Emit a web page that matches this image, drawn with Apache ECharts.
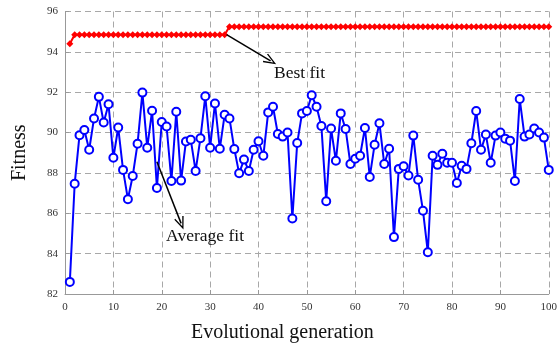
<!DOCTYPE html>
<html><head><meta charset="utf-8">
<script src="https://cdn.jsdelivr.net/npm/echarts@6/dist/echarts.min.js"></script>
<style>html,body{margin:0;padding:0;background:#fff}#c{width:560px;height:348px}</style>
</head><body><div id="c"></div>
<script>
var generations = [];
for (var g = 1; g <= 100; g++) generations.push(g);

var bestFit = [94.4].concat(
  Array(32).fill(94.85),
  Array(67).fill(95.25)
);

var averageFit = [
  82.6, 87.46, 89.87, 90.13, 89.15, 90.7, 91.77, 90.5, 91.4, 88.75,
  90.25, 88.15, 86.7, 87.85, 89.45, 91.98, 89.25, 91.08, 87.25, 90.52,
  90.3, 87.6, 91.03, 87.62, 89.56, 89.64, 88.1, 89.72, 91.8, 89.25,
  91.44, 89.2, 90.88, 90.7, 89.18, 87.98, 88.66, 88.1, 89.15, 89.57,
  88.85, 91.0, 91.28, 89.93, 89.8, 90.0, 85.74, 89.48, 90.95, 91.07,
  91.85, 91.28, 90.33, 86.6, 90.2, 88.6, 90.95, 90.18, 88.44, 88.7,
  88.85, 90.23, 87.8, 89.4, 90.46, 88.44, 89.2, 84.82, 88.2, 88.33,
  87.87, 89.85, 87.66, 86.13, 84.07, 88.85, 88.4, 88.95, 88.5, 88.5,
  87.5, 88.35, 88.2, 89.47, 91.07, 89.15, 89.9, 88.5, 89.85, 90.0,
  89.7, 89.6, 87.6, 91.66, 89.8, 89.9, 90.2, 90.0, 89.75, 88.15
];

var xTicks = [0, 10, 20, 30, 40, 50, 60, 70, 80, 90, 100];
var yTicks = [82, 84, 86, 88, 90, 92, 94, 96];

var bestFitLabel = 'Best fit';
var averageFitLabel = 'Average fit';
var bestArrow = [[33.4, 94.85], [42.5, 93.55]];
var avgArrow = [[19.0, 88.55], [24.0, 85.5]];
var bestLabelPos = [43.1, 92.92];
var avgLabelPos = [20.8, 84.85];

var serif = '"Liberation Serif", "DejaVu Serif", serif';
var chevron = 'path://M5,0 L10,11 L8.8,11.6 L5,3 L1.2,11.6 L0,11 Z';

var chart = echarts.init(document.getElementById('c'));
var gridLine = {show: true, lineStyle: {color: '#a8a8a8', type: [6, 4], width: 1}};
chart.setOption({
  animation: false,
  backgroundColor: '#fff',
  grid: {left: 65, right: 7, top: 11.5, bottom: 52, show: false},
  xAxis: {
    type: 'value', min: 0, max: 100, interval: 10,
    name: 'Evolutional generation', nameLocation: 'middle', nameGap: 29,
    nameTextStyle: {fontFamily: serif, fontSize: 20, color: '#111', padding: [0, 49, 0, 0]},
    axisLine: {show: true, onZero: false, lineStyle: {color: '#999', width: 1}},
    axisTick: {show: true, inside: true, length: 4, lineStyle: {color: '#999'}},
    axisLabel: {fontFamily: serif, fontSize: 11, color: '#333', margin: 8,
      formatter: function (v) { return xTicks.indexOf(v) >= 0 ? String(v) : ''; }},
    splitLine: gridLine
  },
  yAxis: {
    type: 'value', min: 82, max: 96, interval: 2,
    name: 'Fitness', nameLocation: 'middle', nameGap: 35,
    nameTextStyle: {fontFamily: serif, fontSize: 20, color: '#111'},
    axisLine: {show: true, lineStyle: {color: '#999', width: 1}},
    axisTick: {show: true, inside: true, length: 4, lineStyle: {color: '#999'}},
    axisLabel: {fontFamily: serif, fontSize: 11, color: '#333', margin: 7,
      formatter: function (v) { return yTicks.indexOf(v) >= 0 ? String(v) : ''; }},
    splitLine: gridLine
  },
  series: [
    {
      type: 'line', name: bestFitLabel,
      data: generations.map(function (g, i) { return [g, bestFit[i]]; }),
      symbol: 'diamond', symbolSize: [7, 7], showSymbol: true,
      lineStyle: {color: '#ff0000', width: 2},
      itemStyle: {color: '#ff0000', borderWidth: 0},
      z: 3,
      markLine: {
        silent: true, symbol: ['none', chevron], symbolSize: [10, 13],
        lineStyle: {color: '#000', width: 1.5, type: 'solid'},
        label: {show: false},
        data: [[{coord: bestArrow[0]}, {coord: bestArrow[1]}]]
      },
      markPoint: {
        silent: true, symbol: 'rect', symbolSize: 1,
        itemStyle: {color: 'rgba(0,0,0,0)'},
        label: {show: true, position: 'right', distance: 0,
          fontFamily: serif, fontSize: 17.5, color: '#111',
          formatter: function () { return bestFitLabel; }},
        data: [{coord: bestLabelPos}]
      }
    },
    {
      type: 'line', name: averageFitLabel,
      data: generations.map(function (g, i) { return [g, averageFit[i]]; }),
      symbol: 'circle', symbolSize: 8, showSymbol: true,
      lineStyle: {color: '#0000ff', width: 2},
      itemStyle: {color: '#fff', borderColor: '#0000ff', borderWidth: 2},
      z: 2,
      markLine: {
        silent: true, symbol: ['none', chevron], symbolSize: [10, 13],
        lineStyle: {color: '#000', width: 1.5, type: 'solid'},
        label: {show: false},
        data: [[{coord: avgArrow[0]}, {coord: avgArrow[1]}]]
      },
      markPoint: {
        silent: true, symbol: 'rect', symbolSize: 1,
        itemStyle: {color: 'rgba(0,0,0,0)'},
        label: {show: true, position: 'right', distance: 0,
          fontFamily: serif, fontSize: 17.5, color: '#111',
          formatter: function () { return averageFitLabel; }},
        data: [{coord: avgLabelPos}]
      }
    }
  ]
});
</script></body></html>
